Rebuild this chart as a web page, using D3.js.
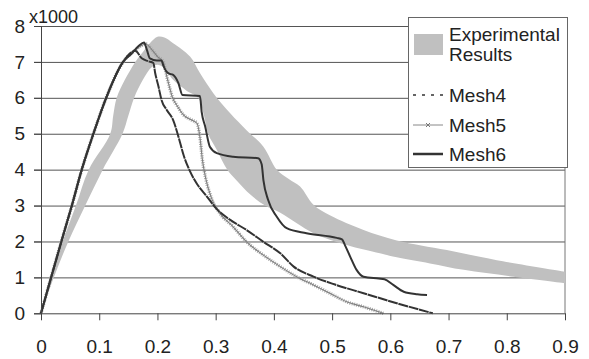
<!DOCTYPE html>
<html>
<head>
<meta charset="utf-8">
<script src="https://cdn.jsdelivr.net/npm/d3@7"></script>
<style>
  body { margin: 0; background: #fff; }
  text { font-family: "Liberation Sans", Arial, sans-serif; fill: #222; }
</style>
</head>
<body>
<div id="wrapper"></div>
<script>
// experimental band, outer (upper) edge and inner (lower) edge, [displacement, load/1000]
const expUpper = [[0,0],[0.015,1],[0.037,2],[0.06,3],[0.082,4],[0.119,5],[0.124,5.5],[0.13,6],[0.144,6.5],[0.162,7],[0.176,7.3],[0.187,7.52],[0.2,7.7],[0.212,7.68],[0.227,7.52],[0.256,7.15],[0.273,6.69],[0.296,6.13],[0.325,5.57],[0.353,5.1],[0.382,4.64],[0.405,4.0],[0.425,3.75],[0.445,3.53],[0.468,3.02],[0.497,2.72],[0.554,2.32],[0.611,2.03],[0.697,1.76],[0.783,1.48],[0.9,1.16]]
const expLower = [[0,0],[0.022,1],[0.047,2],[0.076,3],[0.106,4],[0.14,5],[0.15,5.5],[0.16,6],[0.175,6.5],[0.19,6.85],[0.2,6.92],[0.21,6.85],[0.227,6.5],[0.25,6.2],[0.27,6.0],[0.28,5.5],[0.287,5.0],[0.302,4.55],[0.32,4.0],[0.336,3.7],[0.36,3.3],[0.385,3.0],[0.411,2.8],[0.44,2.5],[0.468,2.23],[0.525,1.9],[0.582,1.67],[0.611,1.56],[0.668,1.39],[0.726,1.21],[0.812,1.02],[0.9,0.84]]

const mesh4 = [[0,0],[0.035,2],[0.053,3],[0.07,4],[0.09,5],[0.112,6],[0.141,7],[0.153,7.24],[0.162,7.31],[0.173,7.1],[0.184,7.02],[0.193,6.97],[0.196,6.7],[0.202,6.3],[0.207,5.94],[0.216,5.66],[0.227,5.38],[0.236,4.92],[0.245,4.4],[0.256,3.95],[0.268,3.6],[0.285,3.25],[0.302,2.9],[0.325,2.6],[0.353,2.32],[0.382,1.99],[0.411,1.67],[0.434,1.3],[0.468,1.02],[0.505,0.8],[0.554,0.56],[0.611,0.28],[0.673,0]]
const mesh5 = [[0,0],[0.035,2],[0.053,3],[0.07,4],[0.09,5],[0.112,6],[0.141,7],[0.16,7.3],[0.172,7.45],[0.18,7.5],[0.19,7.35],[0.2,7.15],[0.21,7.0],[0.216,6.6],[0.222,6.22],[0.226,6.0],[0.233,5.8],[0.245,5.52],[0.259,5.38],[0.268,5.29],[0.273,4.9],[0.277,4.3],[0.283,3.75],[0.293,3.2],[0.307,2.79],[0.33,2.41],[0.353,1.99],[0.382,1.62],[0.411,1.3],[0.439,1.02],[0.468,0.79],[0.497,0.55],[0.525,0.32],[0.554,0.18],[0.588,0]]
const mesh6 = [[0,0],[0.035,2],[0.053,3],[0.07,4],[0.09,5],[0.112,6],[0.141,7],[0.155,7.22],[0.168,7.45],[0.177,7.54],[0.182,7.33],[0.187,7.1],[0.199,7.04],[0.207,7.04],[0.21,6.9],[0.219,6.68],[0.227,6.64],[0.236,6.41],[0.243,6.08],[0.273,6.05],[0.276,5.6],[0.282,5.2],[0.29,4.64],[0.302,4.46],[0.33,4.36],[0.373,4.32],[0.379,4.15],[0.382,3.71],[0.39,3.16],[0.405,2.69],[0.422,2.37],[0.456,2.23],[0.508,2.1],[0.517,2.06],[0.522,1.9],[0.531,1.58],[0.542,1.21],[0.554,1.02],[0.58,0.97],[0.59,0.95],[0.605,0.79],[0.623,0.6],[0.646,0.53],[0.663,0.51]]

const xTicks = [0, 0.1, 0.2, 0.3, 0.4, 0.5, 0.6, 0.7, 0.8, 0.9]
const yTicks = [0, 1, 2, 3, 4, 5, 6, 7, 8]
const legendNames = ["Mesh4", "Mesh5", "Mesh6"]

let dimensions = {
  width: 589,
  height: 359,
  margin: { top: 26, right: 24, bottom: 45.7, left: 41 }
}
dimensions.boundedWidth = dimensions.width - dimensions.margin.left - dimensions.margin.right
dimensions.boundedHeight = dimensions.height - dimensions.margin.top - dimensions.margin.bottom

const wrapper = d3.select('#wrapper')
  .append('svg')
  .attr('width', dimensions.width)
  .attr('height', dimensions.height)

wrapper.append('rect')
  .attr('width', dimensions.width)
  .attr('height', dimensions.height)
  .attr('fill', '#fff')

const bounds = wrapper.append('g')
  .attr('transform', `translate(${dimensions.margin.left},${dimensions.margin.top})`)

const xScale = d3.scaleLinear().domain([0, 0.9]).range([0, dimensions.boundedWidth])
const yScale = d3.scaleLinear().domain([0, 8]).range([dimensions.boundedHeight, 0])

// gridlines (extend 7px left as y ticks)
bounds.append('g')
  .attr('transform', 'translate(-7,0)')
  .call(d3.axisLeft(yScale).tickValues(yTicks.slice(1)).tickSize(-dimensions.boundedWidth - 7).tickFormat(''))
  .call(g => g.select('.domain').remove())
  .call(g => g.selectAll('line').attr('stroke', '#555'))

// right border of plot
bounds.append('line')
  .attr('x1', dimensions.boundedWidth).attr('x2', dimensions.boundedWidth)
  .attr('y1', 0).attr('y2', dimensions.boundedHeight)
  .attr('stroke', '#777')

// experimental band: smooth outer edge out, inner edge back
const edge = d3.line().x(d => xScale(d[0])).y(d => yScale(d[1])).curve(d3.curveCatmullRom.alpha(0.5))
const upperPath = edge(expUpper)
const lowerPath = edge(expLower.slice().reverse())
bounds.append('path')
  .attr('d', upperPath + 'L' + lowerPath.slice(1) + 'Z')
  .attr('fill', '#c0c0c0')

const meshLine = d3.line().x(d => xScale(d[0])).y(d => yScale(d[1])).curve(d3.curveMonotoneX)

// Mesh5: thin grey line with dense cross markers
bounds.append('path')
  .attr('d', meshLine(mesh5))
  .attr('fill', 'none')
  .attr('stroke', '#a8a8a8')
  .attr('stroke-width', 3.5)
  .attr('stroke-dasharray', '1,1.3')
bounds.append('path')
  .attr('d', meshLine(mesh5))
  .attr('fill', 'none')
  .attr('stroke', '#808080')
  .attr('stroke-width', 1.1)

// Mesh4: dashed dark (fine dashes)
bounds.append('path')
  .attr('d', meshLine(mesh4))
  .attr('fill', 'none')
  .attr('stroke', '#333')
  .attr('stroke-width', 2)
  .attr('stroke-dasharray', '10,0.7')

// Mesh6: solid dark
bounds.append('path')
  .attr('d', meshLine(mesh6))
  .attr('fill', 'none')
  .attr('stroke', '#333')
  .attr('stroke-width', 2)
  .attr('stroke-linejoin', 'round')

// axes
const yAxis = bounds.append('g')
  .call(d3.axisLeft(yScale).tickValues(yTicks).tickSize(7).tickPadding(9).tickFormat(d3.format('d')))
yAxis.selectAll('line').attr('stroke', '#444')
yAxis.select('.domain').attr('stroke', '#444')

const xAxis = bounds.append('g')
  .attr('transform', `translate(0,${dimensions.boundedHeight})`)
  .call(d3.axisBottom(xScale).tickValues(xTicks).tickSizeInner(7).tickSizeOuter(0).tickPadding(19).tickFormat(d => d === 0 ? '0' : d3.format('.1f')(d)))
xAxis.selectAll('line').attr('stroke', '#444')
xAxis.select('.domain').attr('stroke', '#444')

wrapper.selectAll('.tick text')
  .style('font-size', '19px')
  .style('font-family', '"Liberation Sans", Arial, sans-serif')
  .attr('fill', '#222')

wrapper.append('text')
  .attr('x', 29).attr('y', 23)
  .style('font-size', '18px')
  .text('x1000')

// legend
const legend = wrapper.append('g').attr('transform', 'translate(408,17)')
legend.append('rect')
  .attr('x', 0.5).attr('y', 0.5)
  .attr('width', 159).attr('height', 150)
  .attr('fill', '#fff')
  .attr('stroke', '#666')

legend.append('rect')
  .attr('x', 6).attr('y', 17)
  .attr('width', 29).attr('height', 21)
  .attr('fill', '#c0c0c0')
legend.append('text').attr('x', 41).attr('y', 24).style('font-size', '19px').text('Experimental')
legend.append('text').attr('x', 41).attr('y', 44).style('font-size', '19px').text('Results')

const rowY = [78, 108, 137]
legendNames.forEach((name, i) => {
  const y = rowY[i]
  const ln = legend.append('line')
    .attr('x1', 5).attr('x2', 35)
    .attr('y1', y).attr('y2', y)
  if (name === 'Mesh4') {
    ln.attr('stroke', '#333').attr('stroke-width', 1.5).attr('stroke-dasharray', '3,6')
  } else if (name === 'Mesh5') {
    ln.attr('stroke', '#888').attr('stroke-width', 1)
    legend.append('path')
      .attr('d', `M${18},${y - 2}L${22},${y + 2}M${18},${y + 2}L${22},${y - 2}`)
      .attr('stroke', '#777').attr('stroke-width', 1)
  } else {
    ln.attr('stroke', '#333').attr('stroke-width', 2.5)
  }
  legend.append('text')
    .attr('x', 41).attr('y', y + 7)
    .style('font-size', '19px')
    .text(name)
})
</script>
</body>
</html>
